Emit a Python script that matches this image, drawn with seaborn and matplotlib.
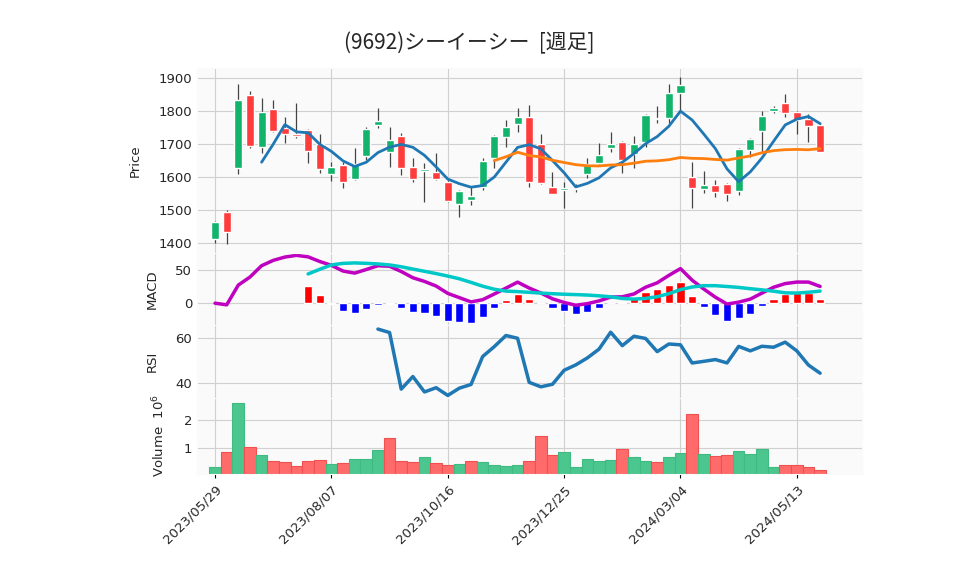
import numpy as np
import pandas as pd
import matplotlib
matplotlib.use("Agg")
import matplotlib.pyplot as plt
import seaborn as sns

dates = pd.date_range("2023-05-29", periods=53, freq="7D")
opens = [1412,1495,1628,1848,1692,1807,1748,1730,1742,1700,1610,1636,1595,1665,1757,1677,1724,1630,1619,1615,
         1586,1518,1530,1570,1658,1721,1760,1782,1700,1570,1562,1564,1608,1643,1689,1706,1670,1707,1780,1778,
         1853,1600,1563,1576,1579,1558,1683,1738,1801,1824,1797,1776,1758]
closes = [1465,1434,1833,1695,1797,1738,1730,1724,1680,1624,1630,1586,1639,1745,1770,1712,1628,1595,1623,1595,
          1528,1558,1542,1648,1724,1752,1782,1585,1583,1548,1566,1568,1639,1667,1699,1650,1700,1788,1775,1855,
          1879,1566,1576,1554,1548,1685,1715,1785,1808,1795,1773,1755,1677]
highs = [1468,1500,1882,1860,1840,1833,1782,1824,1745,1730,1645,1645,1688,1750,1809,1752,1733,1658,1642,1673,
         1590,1560,1570,1658,1727,1773,1809,1818,1730,1615,1585,1580,1658,1703,1736,1709,1724,1790,1815,1882,
         1903,1645,1618,1590,1582,1688,1718,1800,1815,1851,1800,1790,1764]
lows = [1400,1397,1609,1688,1673,1735,1703,1718,1642,1612,1588,1567,1590,1652,1748,1630,1606,1585,1524,1590,
        1524,1479,1515,1561,1627,1691,1736,1570,1578,1548,1506,1555,1597,1640,1676,1612,1627,1691,1764,1764,
        1797,1506,1552,1539,1527,1545,1661,1676,1794,1782,1730,1706,1677]
volume = [0.35,0.86,2.57,1.05,0.75,0.57,0.52,0.38,0.57,0.60,0.46,0.49,0.64,0.64,0.94,1.35,0.57,0.53,0.68,0.49,
          0.42,0.46,0.57,0.53,0.42,0.38,0.41,0.57,1.42,0.75,0.86,0.35,0.64,0.57,0.60,0.98,0.68,0.57,0.53,0.68,
          0.83,2.20,0.79,0.72,0.75,0.90,0.79,0.98,0.35,0.42,0.42,0.35,0.23]
tick_idx = [0, 10, 20, 30, 40, 50]

df = pd.DataFrame({"i": np.arange(len(dates)), "open": opens, "close": closes,
                   "high": highs, "low": lows, "vol": volume})
df["ma5"] = df["close"].rolling(5).mean()
df["ma25"] = df["close"].rolling(25).mean()
ema12 = df["close"].ewm(span=12, adjust=False).mean()
ema26 = df["close"].ewm(span=26, adjust=False).mean()
df["macd"] = ema12 - ema26
df["signal"] = df["macd"].rolling(9).mean()
df["hist"] = df["macd"] - df["signal"]
d = df["close"].diff()
gain = d.clip(lower=0).rolling(14).mean()
loss = (-d.clip(upper=0)).rolling(14).mean()
df["rsi"] = 100 - 100 / (1 + gain / loss)

sns.set_style("whitegrid", {"axes.facecolor": "#fafafa", "grid.color": "#d0d0d0", "axes.edgecolor": "#fafafa"})
fig = plt.figure(figsize=(9.58, 5.75), dpi=100)
L, R = 197/958, 862/958
def mk(top, bot, sharex=None):
    return fig.add_axes([L, 1-bot/575, R-L, (bot-top)/575], sharex=sharex)
ax1 = mk(68, 253)
ax2 = mk(253, 325, ax1)
ax3 = mk(325, 398, ax1)
ax4 = mk(398, 474, ax1)

G, Rd = "#12b36b", "#ff3c3c"
up = df["close"] >= df["open"]
ccol = np.where(up, G, Rd)
ax1.vlines(df["i"], df["low"], df["high"], color="#444444", lw=0.9, zorder=2)
ax1.bar(df["i"], (df["close"]-df["open"]).abs().clip(lower=2), bottom=np.minimum(df["open"], df["close"]),
        width=0.7, color=ccol, zorder=3)
sns.lineplot(data=df, x="i", y="ma5", ax=ax1, color="#1f77b4", lw=2, zorder=4)
sns.lineplot(data=df, x="i", y="ma25", ax=ax1, color="#ff7f0e", lw=2, zorder=4)
ax1.set_ylim(1370, 1930)
ax1.set_yticks([1400, 1500, 1600, 1700, 1800, 1900])
ax1.set_ylabel("Price")

h = df.dropna(subset=["hist"])
hcol = np.where(h["hist"] >= 0, "#ff0000", "#0000ff")
ax2.bar(h["i"], h["hist"], width=0.7, color=hcol)
sns.lineplot(data=df, x="i", y="macd", ax=ax2, color="#c000c0", lw=2.5)
sns.lineplot(data=df, x="i", y="signal", ax=ax2, color="#00c8c8", lw=2.5)
ax2.set_ylim(-33, 76)
ax2.set_yticks([0, 50])
ax2.set_ylabel("MACD")

sns.lineplot(data=df, x="i", y="rsi", ax=ax3, color="#1f77b4", lw=2.5)
ax3.set_ylim(33, 66)
ax3.set_yticks([40, 60])
ax3.set_ylabel("RSI")

vup = df["close"].diff().fillna(1) >= 0
vcol = np.where(vup, "#4cc68f", "#ff6b6b")
ax4.bar(df["i"], df["vol"], width=1.0, color=vcol, edgecolor=np.where(vup, "#3dbb80", "#f05050"), lw=0.8)
ax4.set_ylim(0.1, 2.75)
ax4.set_yticks([1, 2])
ax4.set_ylabel("Volume  $10^6$")

for ax in (ax1, ax2, ax3):
    ax.tick_params(labelbottom=False, length=0)
    ax.set_xlabel("")
ax4.set_xlim(-1.55, 55.6)
ax4.set_xticks(tick_idx)
ax4.set_xticklabels([dates[k].strftime("%Y/%m/%d") for k in tick_idx], rotation=45, ha="right",
                    rotation_mode="anchor", fontsize=9.5)
ax4.set_xlabel("")
ax4.tick_params(axis="x", length=3, color="black", bottom=True)
for ax in (ax1, ax2, ax3, ax4):
    ax.tick_params(axis="y", labelsize=9.5, length=0)
    ax.yaxis.label.set_size(9.5)
    ax.yaxis.labelpad = 12

fig.text(0.49, 0.915, "(9692)シーイーシー  [週足]", ha="center", fontsize=15, family="Noto Sans CJK JP")
fig.savefig("out.png", dpi=100, facecolor="white")
